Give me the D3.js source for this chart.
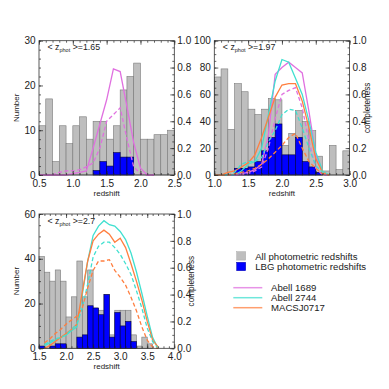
<!DOCTYPE html>
<html>
<head>
<meta charset="utf-8">
<script src="https://cdn.jsdelivr.net/npm/d3@7"></script>
<style>
  body { margin: 0; background: #fff; }
  svg text { font-family: "Liberation Sans", Arial, Helvetica, sans-serif; fill: #222; }
</style>
</head>
<body>
<svg id="chart" width="389" height="389"></svg>
<script>
// ---- histogram data (bin left edges, width 0.1) ----
const binsP1 = [0.5,0.6,0.7,0.8,0.9,1.0,1.1,1.2,1.3,1.4,1.5,1.6,1.7,1.8,1.9,2.0,2.1,2.2,2.3,2.4];
const allP1  = [11,17,3,11,7,11,13,8,12,12,8,11,19,22,25,8,8,9,9,10];
const lbgP1  = [0,0,0,0,0,0,0,0,1,3,2,5,4,4,0,0,0,0,0,0];

const binsP2 = [1.0,1.1,1.2,1.3,1.4,1.5,1.6,1.7,1.8,1.9,2.0,2.1,2.2,2.3,2.4,2.5,2.6,2.7,2.8,2.9];
const allP2  = [73,79,34,68,62,49,45,49,57,56,22,31,48,40,33,14,3,22,4,18];
const lbgP2  = [0,0,0,5,5,6,10,18,28,38,15,15,28,10,6,2,0,0,0,0];

const binsP3 = [1.5,1.6,1.7,1.8,1.9,2.0,2.1,2.2,2.3,2.4,2.5,2.6,2.7,2.8,2.9,3.0,3.1,3.2,3.3,3.4,3.5,3.6,3.7,3.8,3.9];
const allP3  = [41,34,30,35,30,14,23,39,23,35,18,17,24,6,17,17,17,6,1,5,2,0,0,0,0];
const lbgP3  = [1,0,1,2,2,0,0,5,6,19,18,15,24,5,16,10,12,3,0,0,0,0,0,0,0];

// ---- completeness curves ----
const zLineP1 = [0.5,0.6,0.7,0.8,0.9,1.0,1.1,1.2,1.3,1.4,1.5,1.6,1.7,1.8,1.9,2.0,2.1,2.2];
const a1689SolidP1 = [0,0,0,0,0,0.01,0.02,0.03,0.2,0.38,0.56,0.79,0.77,0.51,0.24,0.05,0,0];
const a1689DashP1  = [0,0,0,0.02,0.03,0.03,0.04,0.06,0.09,0.2,0.4,0.45,0.5,0.27,0.06,0.01,0,0];

const zLineP2 = [1.0,1.1,1.2,1.3,1.4,1.5,1.6,1.7,1.8,1.9,2.0,2.1,2.2,2.3,2.4,2.5,2.6,2.7];
const a1689SolidP2 = [0,0,0,0,0.01,0.02,0.04,0.08,0.3,0.75,0.8,0.84,0.8,0.76,0.47,0.15,0.02,0];
const a2744SolidP2 = [0,0,0,0,0.03,0.08,0.1,0.2,0.45,0.7,0.86,0.84,0.72,0.6,0.4,0.17,0.03,0];
const m0717SolidP2 = [0,0,0.02,0.03,0.06,0.09,0.15,0.28,0.43,0.58,0.67,0.68,0.68,0.55,0.35,0.12,0.02,0];
const a1689DashP2  = [0,0,0,0,0,0.01,0.03,0.06,0.2,0.42,0.6,0.63,0.65,0.5,0.25,0.05,0,0];
const a2744DashP2  = [0,0,0,0.02,0.08,0.1,0.1,0.13,0.25,0.33,0.45,0.49,0.48,0.35,0.2,0.07,0.02,0];
const m0717DashP2  = [0,0,0,0.01,0.02,0.03,0.05,0.08,0.12,0.17,0.22,0.28,0.31,0.2,0.1,0.05,0.01,0];

const zLineP3 = [1.6,1.7,1.8,1.9,2.0,2.1,2.2,2.3,2.4,2.5,2.6,2.7,2.8,2.9,3.0,3.1,3.2,3.3,3.4,3.5,3.6,3.7];
const a2744SolidP3 = [0.02,0.04,0.06,0.08,0.1,0.13,0.16,0.4,0.65,0.84,0.91,0.95,0.92,0.91,0.87,0.81,0.71,0.57,0.41,0.24,0.08,0];
const m0717SolidP3 = [0,0.02,0.05,0.08,0.11,0.14,0.18,0.42,0.65,0.8,0.85,0.88,0.85,0.79,0.82,0.75,0.63,0.5,0.36,0.2,0.06,0.01];
const a2744DashP3  = [0.03,0.05,0.07,0.08,0.1,0.14,0.18,0.3,0.48,0.68,0.76,0.79,0.79,0.75,0.7,0.63,0.55,0.43,0.3,0.15,0.05,0];
const m0717DashP3  = [0.04,0.07,0.11,0.14,0.18,0.21,0.24,0.3,0.45,0.58,0.65,0.65,0.66,0.58,0.53,0.47,0.38,0.28,0.16,0.06,0.01,0];

// ---- labels ----
const meanLabels = ["1.65", "1.97", "2.7"];
const legendBars = ["All photometric redshifts", "LBG photometric redshifts"];
const clusterNames = ["Abell 1689", "Abell 2744", "MACSJ0717"];

const colors = {
  all: "#bebebe", lbg: "#0000ff",
  "Abell 1689": "#e070e0", "Abell 2744": "#40e0d0", "MACSJ0717": "#ff7f40"
};

const svg = d3.select("#chart");
const binW = 0.1;

function drawPanel(cfg) {
  const w = 135.3, h = 134.3;
  const g = svg.append("g").attr("transform", `translate(${cfg.left},${cfg.top})`);

  const x = d3.scaleLinear().domain(cfg.xDomain).range([0, w]);
  const y = d3.scaleLinear().domain(cfg.yDomain).range([h, 0]);
  const yc = d3.scaleLinear().domain([0, 1]).range([h, 0]);

  // gray histogram
  g.selectAll(".all").data(cfg.bins.map((b, i) => ({b, v: cfg.all[i]})).filter(d => d.v > 0))
    .join("rect").attr("class", "all")
    .attr("x", d => x(d.b)).attr("width", d => x(d.b + binW) - x(d.b))
    .attr("y", d => y(d.v)).attr("height", d => y(0) - y(d.v))
    .attr("fill", colors.all).attr("stroke", "#7a7a7a").attr("stroke-width", 0.6);

  // LBG histogram
  g.selectAll(".lbg").data(cfg.bins.map((b, i) => ({b, v: cfg.lbg[i]})).filter(d => d.v > 0))
    .join("rect").attr("class", "lbg")
    .attr("x", d => x(d.b)).attr("width", d => x(d.b + binW) - x(d.b))
    .attr("y", d => y(d.v)).attr("height", d => y(0) - y(d.v))
    .attr("fill", colors.lbg).attr("stroke", "#000040").attr("stroke-width", 0.6);

  // completeness curves
  const line = d3.line().x(d => x(d[0])).y(d => yc(d[1]));
  cfg.curves.forEach(c => {
    g.append("path")
      .datum(cfg.z.map((z, i) => [z, c.vals[i]]))
      .attr("d", line).attr("fill", "none")
      .attr("stroke", colors[c.name]).attr("stroke-width", 1.3)
      .attr("stroke-dasharray", c.dash ? "4,2.5" : null);
  });

  // axes, IDL style ticks pointing inward
  const axes = g.append("g").attr("font-size", 8);
  const minorX = d3.range(cfg.xDomain[0], cfg.xDomain[1] + 1e-9, binW);
  const minorY = d3.range(cfg.yDomain[0], cfg.yDomain[1] + 1e-9, cfg.yMinor);
  const minorC = d3.range(0, 1.0001, 0.05);

  const addAxis = (axis, tr, labels) => {
    const a = axes.append("g").attr("transform", tr).call(axis);
    a.select(".domain").remove();
    a.selectAll("line").attr("stroke", "#222").attr("stroke-width", 0.7);
    if (!labels) a.selectAll("text").remove();
    return a;
  };
  addAxis(d3.axisBottom(x).tickValues(cfg.xTicks).tickSize(-4).tickPadding(4.8).tickFormat(d3.format(".1f")), `translate(0,${h})`, true);
  addAxis(d3.axisBottom(x).tickValues(minorX).tickSize(-2), `translate(0,${h})`, false);
  addAxis(d3.axisTop(x).tickValues(cfg.xTicks).tickSize(-4), "translate(0,0)", false);
  addAxis(d3.axisTop(x).tickValues(minorX).tickSize(-2), "translate(0,0)", false);
  addAxis(d3.axisLeft(y).tickValues(cfg.yTicks).tickSize(-4).tickPadding(3.5).tickFormat(d3.format("d")), "translate(0,0)", true);
  addAxis(d3.axisLeft(y).tickValues(minorY).tickSize(-2), "translate(0,0)", false);
  addAxis(d3.axisRight(yc).tickValues([0, 0.2, 0.4, 0.6, 0.8, 1.0]).tickSize(-4).tickPadding(3).tickFormat(d3.format(".1f")), `translate(${w},0)`, true);
  addAxis(d3.axisRight(yc).tickValues(minorC).tickSize(-2), `translate(${w},0)`, false);
  axes.selectAll("text").attr("fill", "#222").attr("font-family", '"Liberation Sans", Arial, sans-serif');

  g.append("rect").attr("width", w).attr("height", h)
    .attr("fill", "none").attr("stroke", "#333").attr("stroke-width", 0.8);

  // titles
  g.append("text").attr("x", w / 2).attr("y", h + 21).attr("text-anchor", "middle")
    .attr("font-size", 8).text("redshift");
  if (cfg.showNumber) {
    g.append("text").attr("transform", `translate(-20,${h / 2}) rotate(-90)`)
      .attr("text-anchor", "middle").attr("font-size", 8).text("Number");
  }
  if (cfg.showCompleteness) {
    g.append("text").attr("transform", `translate(${w + 20},${h / 2}) rotate(-90)`)
      .attr("text-anchor", "middle").attr("font-size", 8.2).text("completeness");
  }

  const t = g.append("text").attr("x", 8.5).attr("y", 9.5).attr("font-size", 8.8);
  t.append("tspan").text("< z");
  t.append("tspan").attr("font-size", 5.5).attr("dy", 2).text("phot");
  t.append("tspan").attr("dy", -2).text(" >=" + cfg.mean);
}

drawPanel({
  left: 39, top: 40.7, xDomain: [0.5, 2.5], yDomain: [0, 30],
  xTicks: [0.5, 1.0, 1.5, 2.0, 2.5], yTicks: [0, 10, 20, 30], yMinor: 2,
  bins: binsP1, all: allP1, lbg: lbgP1, z: zLineP1, mean: meanLabels[0],
  showNumber: true, showCompleteness: false,
  curves: [
    {name: "Abell 1689", vals: a1689SolidP1, dash: false},
    {name: "Abell 1689", vals: a1689DashP1, dash: true}
  ]
});

drawPanel({
  left: 214.3, top: 40.7, xDomain: [1.0, 3.0], yDomain: [0, 100],
  xTicks: [1.0, 1.5, 2.0, 2.5, 3.0], yTicks: [0, 20, 40, 60, 80, 100], yMinor: 5,
  bins: binsP2, all: allP2, lbg: lbgP2, z: zLineP2, mean: meanLabels[1],
  showNumber: false, showCompleteness: true,
  curves: [
    {name: "Abell 1689", vals: a1689SolidP2, dash: false},
    {name: "Abell 2744", vals: a2744SolidP2, dash: false},
    {name: "MACSJ0717", vals: m0717SolidP2, dash: false},
    {name: "Abell 1689", vals: a1689DashP2, dash: true},
    {name: "Abell 2744", vals: a2744DashP2, dash: true},
    {name: "MACSJ0717", vals: m0717DashP2, dash: true}
  ]
});

drawPanel({
  left: 39, top: 214, xDomain: [1.5, 4.0], yDomain: [0, 60],
  xTicks: [1.5, 2.0, 2.5, 3.0, 3.5, 4.0], yTicks: [0, 20, 40, 60], yMinor: 5,
  bins: binsP3, all: allP3, lbg: lbgP3, z: zLineP3, mean: meanLabels[2],
  showNumber: true, showCompleteness: true,
  curves: [
    {name: "Abell 2744", vals: a2744SolidP3, dash: false},
    {name: "MACSJ0717", vals: m0717SolidP3, dash: false},
    {name: "Abell 2744", vals: a2744DashP3, dash: true},
    {name: "MACSJ0717", vals: m0717DashP3, dash: true}
  ]
});

// legend
const leg = svg.append("g").attr("transform", "translate(236.7,251.7)");
leg.selectAll(".sw").data(legendBars).join("rect").attr("class", "sw")
  .attr("x", 0).attr("y", (d, i) => i * 10.6).attr("width", 9).attr("height", 8.4)
  .attr("fill", (d, i) => i === 0 ? colors.all : colors.lbg)
  .attr("stroke", (d, i) => i === 0 ? "#aaa" : "#0000aa").attr("stroke-width", 0.5);
leg.selectAll(".bt").data(legendBars).join("text").attr("class", "bt")
  .attr("x", 18.5).attr("y", (d, i) => i * 10.6 + 7.8).attr("font-size", 9.6).text(d => d);
leg.selectAll(".ln").data(clusterNames).join("line").attr("class", "ln")
  .attr("x1", -3.4).attr("x2", 25.6)
  .attr("y1", (d, i) => 36 + i * 10).attr("y2", (d, i) => 36 + i * 10)
  .attr("stroke", d => colors[d]).attr("stroke-width", 1.5).attr("opacity", 0.75);
leg.selectAll(".lt").data(clusterNames).join("text").attr("class", "lt")
  .attr("x", 34.3).attr("y", (d, i) => 39.5 + i * 10).attr("font-size", 9.6).text(d => d);
</script>
</body>
</html>
